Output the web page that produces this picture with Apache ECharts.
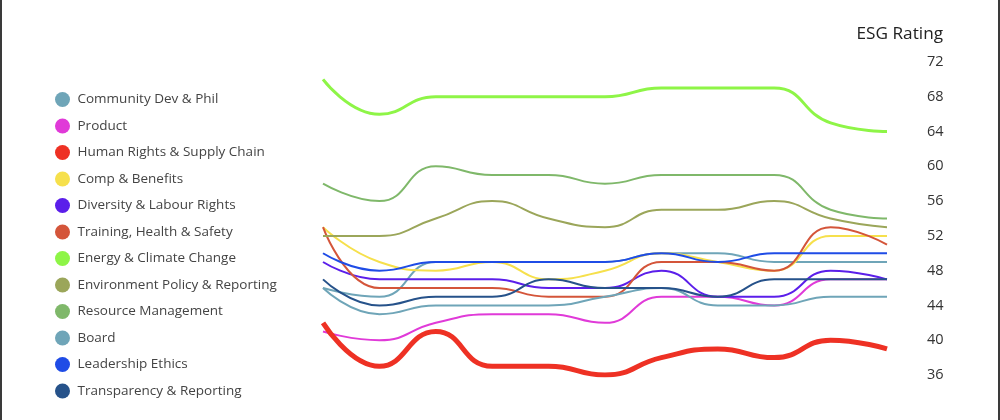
<!DOCTYPE html>
<html>
<head>
<meta charset="utf-8">
<script src="https://cdn.jsdelivr.net/npm/echarts@6/dist/echarts.min.js"></script>
<style>
  html, body { margin: 0; padding: 0; background: #fff; }
  #chart {
    width: 1000px;
    height: 420px;
    box-sizing: border-box;
    border-left: 2px solid #3a3a3a;
    border-right: 2px solid #3a3a3a;
  }
</style>
</head>
<body>
<div id="chart"></div>
<script>
  const periods = ['P1', 'P2', 'P3', 'P4', 'P5', 'P6', 'P7', 'P8', 'P9', 'P10', 'P11'];

  const yTicks = { min: 36, max: 72, interval: 4 };

  const communityDev = [46, 45, 49, 49, 49, 49, 50, 50, 49, 49, 49];
  const product = [41, 40, 42, 43, 43, 42, 45, 45, 44, 47, 47];
  const humanRights = [42, 37, 41, 37, 37, 36, 38, 39, 38, 40, 39];
  const compBenefits = [53, 49, 48, 49, 47, 48, 50, 49, 48, 52, 52];
  const diversity = [49, 47, 47, 47, 46, 46, 48, 45, 45, 48, 47];
  const training = [53, 46, 46, 46, 45, 45, 49, 49, 48, 53, 51];
  const energy = [70, 66, 68, 68, 68, 68, 69, 69, 69, 65, 64];
  const environment = [52, 52, 54, 56, 54, 53, 55, 55, 56, 54, 53];
  const resource = [58, 56, 60, 59, 59, 58, 59, 59, 59, 55, 54];
  const board = [46, 43, 44, 44, 44, 45, 46, 44, 44, 45, 45];
  const leadership = [50, 48, 49, 49, 49, 49, 50, 49, 50, 50, 50];
  const transparency = [47, 44, 45, 45, 47, 46, 46, 45, 47, 47, 47];

  const seriesDefs = [
    { name: 'Community Dev & Phil', data: communityDev, color: '#6fa5b8', width: 2 },
    { name: 'Product', data: product, color: '#e03ad8', width: 2 },
    { name: 'Human Rights & Supply Chain', data: humanRights, color: '#ee3124', width: 5 },
    { name: 'Comp & Benefits', data: compBenefits, color: '#f6e04c', width: 2 },
    { name: 'Diversity & Labour Rights', data: diversity, color: '#5b1eea', width: 2 },
    { name: 'Training, Health & Safety', data: training, color: '#d4553a', width: 2 },
    { name: 'Energy & Climate Change', data: energy, color: '#8ef547', width: 3 },
    { name: 'Environment Policy & Reporting', data: environment, color: '#9ba65a', width: 2 },
    { name: 'Resource Management', data: resource, color: '#7fb86a', width: 2 },
    { name: 'Board', data: board, color: '#6fa5b8', width: 2 },
    { name: 'Leadership Ethics', data: leadership, color: '#1f4ce6', width: 2 },
    { name: 'Transparency & Reporting', data: transparency, color: '#26528a', width: 2 }
  ];

  const font = 'Open Sans, sans-serif';

  const instance = echarts.init(document.getElementById('chart'), null, { renderer: 'canvas' });

  const option = {
    animation: false,
    title: {
      text: 'ESG Rating',
      right: 50,
      top: 21,
      textStyle: { fontFamily: font, fontSize: 17.2, fontWeight: 'normal', color: '#222' }
    },
    legend: {
      orient: 'vertical',
      left: 48,
      top: 87,
      icon: 'circle',
      itemWidth: 20,
      itemHeight: 15,
      itemGap: 11.5,
      textStyle: { fontFamily: font, fontSize: 13.5, color: '#444' },
      data: seriesDefs.map(s => s.name)
    },
    grid: { left: 321, right: 111, top: 62, bottom: 45 },
    xAxis: {
      type: 'category',
      data: periods,
      boundaryGap: false,
      show: false
    },
    yAxis: {
      type: 'value',
      position: 'right',
      min: yTicks.min,
      max: yTicks.max,
      interval: yTicks.interval,
      axisLine: { show: false },
      axisTick: { show: false },
      splitLine: { show: false },
      axisLabel: { margin: 40, fontFamily: font, fontSize: 14.5, color: '#333' }
    },
    series: seriesDefs.map(s => ({
      name: s.name,
      type: 'line',
      data: s.data,
      smooth: 0.5,
      symbol: 'none',
      color: s.color,
      lineStyle: { width: s.width, color: s.color }
    }))
  };

  instance.setOption(option);
</script>
</body>
</html>
